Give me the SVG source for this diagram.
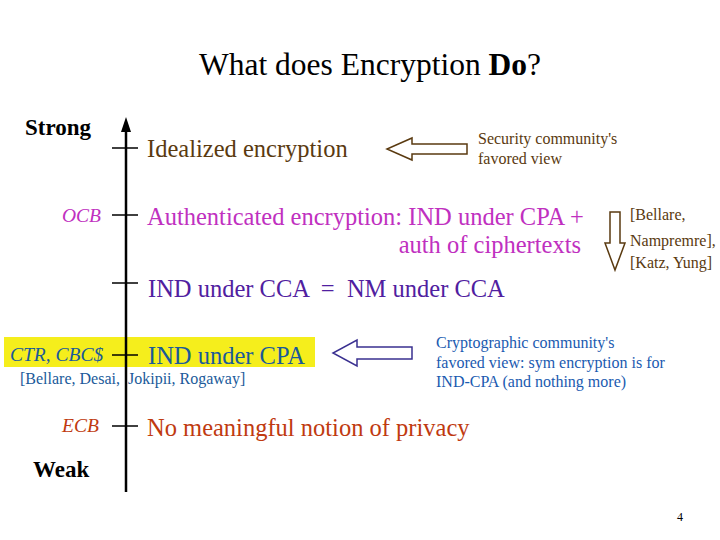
<svg xmlns="http://www.w3.org/2000/svg" width="720" height="540" viewBox="0 0 720 540">
<style>
text{font-family:"Liberation Serif","Times New Roman",serif;white-space:pre}
.big{font-size:24.5px}
.sm{font-size:16px}
.lab{font-size:19.5px;font-style:italic}
.tick{stroke:#000;stroke-width:1.5}
.hollow{fill:#fff;stroke-width:1.5}
</style>
<rect width="720" height="540" fill="#fff"/>
<text x="370" y="75" font-size="31.5" text-anchor="middle">What does Encryption <tspan font-weight="bold">Do</tspan>?</text>
<rect x="4" y="337" width="311" height="30" fill="#f5ee1c"/>
<g id="connectors">
<line x1="126" y1="492" x2="126" y2="130" stroke="#000" stroke-width="2.5"/>
<path d="M121,132 L126,117 L131,132 Z" fill="#000"/>
<line class="tick" x1="112" y1="148" x2="138" y2="148"/>
<line class="tick" x1="112" y1="215" x2="138" y2="215"/>
<line class="tick" x1="112" y1="283" x2="138" y2="283"/>
<line class="tick" x1="112" y1="355" x2="138" y2="355"/>
<line class="tick" x1="112" y1="426" x2="138" y2="426"/>
<path class="hollow" stroke="#5a3a10" d="M467,144 L412,144 L412,138 L387,149 L412,160 L412,154 L467,154 Z"/>
<path class="hollow" stroke="#5a3a10" d="M610,212 L620,212 L620,243 L625,243 L615,270 L605,243 L610,243 Z"/>
<path class="hollow" stroke="#3a3090" d="M412,347 L357,347 L357,340 L333,353 L357,366 L357,359 L412,359 Z"/>
</g>
<g id="strong"><text x="25" y="135" font-size="23" font-weight="bold">Strong</text></g>
<g id="weak"><text x="33" y="477" font-size="23" font-weight="bold">Weak</text></g>
<g id="ideal"><text x="147" y="157" class="big" fill="#5a3a10">Idealized encryption</text></g>
<g id="secview"><text class="sm" fill="#5a3a10"><tspan x="478" y="144">Security community's</tspan><tspan x="478" y="164">favored view</tspan></text></g>
<g id="ae">
<text x="62" y="222" class="lab" fill="#c030c0">OCB</text>
<text x="147" y="225" class="big" fill="#c030c0">Authenticated encryption: IND under CPA +</text>
<text x="581" y="253" class="big" fill="#c030c0" text-anchor="end">auth of ciphertexts</text>
</g>
<g id="refs1"><text class="sm" fill="#5a3a10"><tspan x="630" y="220">[Bellare,</tspan><tspan x="630" y="246">Nampremre],</tspan><tspan x="630" y="268">[Katz, Yung]</tspan></text></g>
<g id="cca"><text x="148" y="297" class="big" fill="#5020a0">IND under CCA  =  NM under CCA</text></g>
<g id="cpa">
<text x="10" y="361" class="lab" fill="#1a5a9a">CTR, CBC$</text>
<text x="148" y="364" class="big" fill="#1a5a9a">IND under CPA</text>
<text x="20" y="384" class="sm" fill="#1a5a9a">[Bellare, Desai,  Jokipii, Rogaway]</text>
</g>
<g id="cryptview"><text class="sm" fill="#1a5ab0"><tspan x="436" y="348">Cryptographic community's</tspan><tspan x="436" y="368">favored view: sym encryption is for</tspan><tspan x="436" y="387">IND-CPA (and nothing more)</tspan></text></g>
<g id="ecb">
<text x="62" y="432" class="lab" fill="#c03a10">ECB</text>
<text x="147" y="436" class="big" fill="#c03a10">No meaningful notion of privacy</text>
</g>
<text x="677" y="521" font-size="12" font-family="Liberation Sans,sans-serif">4</text>
</svg>
